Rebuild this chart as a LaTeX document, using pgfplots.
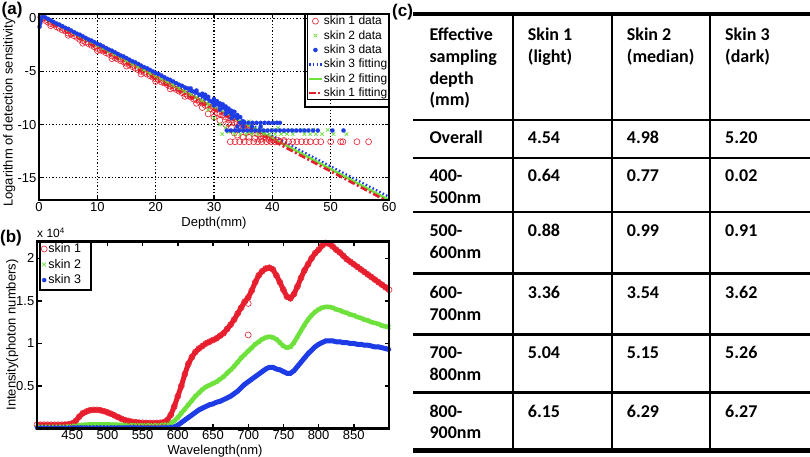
\documentclass[border=0pt]{standalone}
\usepackage{pgfplots}
\usepackage{pgfplotstable}
\pgfplotsset{compat=1.18}
\usepackage{fontspec}
\setmainfont{Liberation Sans}
\newfontfamily\tabfont{Carlito}
\definecolor{mred}{RGB}{230,30,45}
\definecolor{mgreen}{RGB}{110,225,60}
\definecolor{mblue}{RGB}{30,60,230}

\pgfplotstableread{
wl s1 s2 s3
400 0.045 0.020 0.010
405 0.045 0.020 0.010
410 0.045 0.020 0.010
415 0.045 0.020 0.010
420 0.045 0.020 0.010
425 0.045 0.020 0.010
430 0.045 0.021 0.010
435 0.045 0.021 0.010
440 0.047 0.022 0.010
445 0.050 0.025 0.010
450 0.060 0.030 0.011
455 0.090 0.035 0.011
460 0.140 0.040 0.011
465 0.180 0.044 0.011
470 0.200 0.047 0.012
475 0.215 0.049 0.012
480 0.220 0.050 0.012
485 0.220 0.051 0.012
490 0.215 0.051 0.012
495 0.205 0.050 0.012
500 0.190 0.049 0.012
505 0.175 0.048 0.012
510 0.155 0.047 0.012
515 0.135 0.045 0.012
520 0.115 0.044 0.012
525 0.100 0.043 0.012
530 0.090 0.042 0.012
535 0.080 0.041 0.012
540 0.075 0.040 0.012
545 0.070 0.040 0.012
550 0.068 0.040 0.012
555 0.066 0.040 0.012
560 0.065 0.040 0.012
565 0.065 0.040 0.012
570 0.066 0.041 0.012
575 0.068 0.042 0.013
580 0.075 0.044 0.013
585 0.100 0.048 0.014
590 0.160 0.060 0.016
595 0.260 0.090 0.020
600 0.380 0.130 0.040
605 0.500 0.180 0.070
610 0.640 0.230 0.100
615 0.760 0.280 0.130
620 0.840 0.330 0.160
625 0.900 0.380 0.190
630 0.940 0.420 0.220
635 0.970 0.460 0.240
640 1.000 0.490 0.260
645 1.020 0.510 0.280
650 1.040 0.530 0.290
655 1.060 0.550 0.310
660 1.090 0.580 0.320
665 1.120 0.610 0.340
670 1.170 0.650 0.360
675 1.220 0.690 0.380
680 1.280 0.730 0.410
685 1.350 0.780 0.440
690 1.420 0.830 0.480
695 1.490 0.870 0.520
700 1.540 0.910 0.550
705 1.620 0.950 0.580
710 1.720 0.990 0.610
715 1.800 1.020 0.640
720 1.850 1.050 0.670
725 1.880 1.070 0.700
730 1.890 1.080 0.720
735 1.870 1.070 0.720
740 1.800 1.050 0.700
745 1.720 1.010 0.690
750 1.630 0.970 0.670
755 1.550 0.950 0.650
760 1.530 0.960 0.650
765 1.580 1.010 0.680
770 1.670 1.080 0.730
775 1.770 1.150 0.780
780 1.860 1.220 0.830
785 1.930 1.280 0.880
790 2.000 1.330 0.920
795 2.060 1.370 0.960
800 2.100 1.400 0.990
805 2.150 1.420 1.010
810 2.180 1.430 1.030
815 2.170 1.430 1.030
820 2.140 1.420 1.030
825 2.100 1.400 1.020
830 2.070 1.390 1.020
835 2.030 1.370 1.010
840 1.990 1.360 1.010
845 1.960 1.340 1.000
850 1.930 1.330 1.000
855 1.900 1.310 0.990
860 1.870 1.300 0.990
865 1.840 1.280 0.980
870 1.810 1.270 0.980
875 1.780 1.250 0.970
880 1.750 1.240 0.960
885 1.720 1.230 0.960
890 1.690 1.210 0.950
895 1.660 1.200 0.940
900 1.630 1.190 0.930
}\spectra

\pgfplotsset{
  mstyle/.style={
    scale only axis,
    anchor=south west,
    axis line style={black},
    tick style={black, line width=1.4pt},
    major tick length=4.5pt,
    tick align=inside,
    ticklabel style={font=\fontsize{13}{15}\selectfont},
    xticklabel style={inner sep=2pt},
    yticklabel style={inner sep=2.5pt},
    /pgf/number format/assume math mode=true,
    label style={font=\fontsize{13}{15}\selectfont},
    legend image code/.code={\draw[mark repeat=2,mark phase=2,##1] plot coordinates {(0pt,0pt) (6.5pt,0pt) (13pt,0pt)};},
  }
}

\begin{document}
\begin{tikzpicture}
\useasboundingbox (0pt,0pt) rectangle (810pt,457pt);

% ---------------- (a) ----------------
\begin{axis}[mstyle,
  at={(39pt,257pt)}, width=350pt, height=186pt,
  xmin=0, xmax=60, ymin=-17.1, ymax=0.4,
  xtick={0,10,...,60}, ytick={-15,-10,-5,0},
  grid=major,
  major grid style={black, line width=1.4pt, dash pattern=on 1.3pt off 2pt},
  xlabel={Depth(mm)},
  ylabel={Logarithm of detection sensitivity},
  xlabel style={at={(axis description cs:0.5,-0.125)}, anchor=center},
  ylabel style={at={(axis description cs:-0.085,0.47)}, anchor=center},
  legend style={at={(rel axis cs:1,1)}, anchor=north east, xshift=-0.5pt, yshift=-0.5pt, draw=black,
    fill=white, font=\fontsize{12}{13}\selectfont,
    nodes={inner sep=0.6pt}, inner xsep=0.5pt, inner ysep=0.8pt, row sep=3pt, cells={anchor=west}},
]
\addplot[only marks, mark=o, mark size=3pt, mark options={mred, line width=0.6pt}] coordinates {
(0.3,0.1) (0.5,-0.05) (1,-0.2) (1.5,-0.35) (2,-0.5) (2.5,-0.6) (3,-0.8) (3.5,-0.95) (4,-1.1) (4.5,-1.2) (5,-1.4) (5.5,-1.5) (6,-1.65) (6.5,-1.8) (7,-2.0) (7.5,-2.1) (8,-2.25) (8.5,-2.4) (9,-2.55) (9.5,-2.7) (10,-2.85) (10.5,-3.0) (11,-3.1) (11.5,-3.25) (12,-3.4) (12.5,-3.55) (13,-3.7) (13.5,-3.85) (14,-4.0) (14.5,-4.1) (15,-4.25) (15.5,-4.4) (16,-4.55) (16.5,-4.7) (17,-4.85) (17.5,-5.0) (18,-5.1) (18.5,-5.25) (19,-5.4) (19.5,-5.55) (20,-5.7) (20.5,-5.8) (21,-6.0) (21.5,-6.1) (22,-6.25) (22.5,-6.4) (23,-6.55) (23.5,-6.7) (24,-6.85) (24.5,-7.0) (25,-7.1) (25.5,-7.3) (26,-7.4) (26.5,-7.6) (27,-7.7) (27.5,-7.85) (28,-8.0) (28.5,-8.2) (29,-8.3) (29.5,-8.5) (30,-8.6) (30.5,-8.9) (31,-9.0) (31.5,-9.1) (32,-9.3) (32.5,-9.4) (33,-9.6) (33.5,-9.8) (34,-9.9) (34.5,-10.1) (35,-10.2) (35.5,-10.4) (36,-10.5) (36.5,-10.6) (37,-10.8) (37.5,-10.9) (38,-11.1) (38.5,-11.2) (39,-11.3) (39.5,-11.5)
(2,-0.7) (5,-1.6) (7.5,-2.35) (10,-3.05) (12.5,-3.8) (15,-4.5) (17.5,-5.25) (20,-5.95) (22.5,-6.65) (25,-7.35) (27,-8.0) (28,-8.4) (29,-9.0) (30,-9.3) (31,-9.6) (32,-10.0) (32.5,-9.9) (33,-10.3) (33.5,-10.8) (34,-11.0) (35,-11.2) (35.5,-10.8) (36,-11.2) (37,-11.3) (38,-11.4) (40,-11.4) (41,-11.5) (42,-11.5)
(32.8,-11.62) (33.6,-11.62) (34.4,-11.62) (35.2,-11.62) (36,-11.62) (36.8,-11.62) (37.5,-11.62) (38.2,-11.62) (39,-11.62) (39.8,-11.62) (40.5,-11.62) (41.2,-11.62) (42,-11.62) (42.8,-11.62) (43.5,-11.62) (44.2,-11.62) (45,-11.62) (45.8,-11.62) (46.5,-11.62) (47.5,-11.62) (48.3,-11.62) (50,-11.62) (51.7,-11.62) (52.1,-11.62) (54.5,-11.62) (56.5,-11.62)
};
\addlegendentry{skin 1 data}
\addplot[only marks, mark=x, mark size=2.5pt, mark options={mgreen, line width=0.7pt}] coordinates {
(0.5,0.2) (1,0.05) (1.5,-0.1) (2,-0.25) (3,-0.5) (4,-0.8) (5,-1.1) (6,-1.4) (7,-1.7) (8,-1.95) (9,-2.25) (10,-2.55) (11,-2.85) (12,-3.1) (13,-3.4) (14,-3.7) (15,-4.0) (16,-4.3) (17,-4.55) (18,-4.85) (19,-5.15) (20,-5.45) (21,-5.7) (22,-6.0) (23,-6.3) (24,-6.6) (25,-6.9) (26,-7.15) (27,-7.45) (28,-7.75) (29,-8.05) (30,-8.3) (31,-8.6) (32,-8.9) (33,-9.2) (34,-9.5) (35,-9.8) (36,-10.1) (37,-10.4)
(29,-8.6) (30,-9.4) (31,-10.0) (31.4,-10.9) (32,-10.3) (32.5,-10.7) (33,-10.6) (33.5,-10.9) (34,-10.6) (34.5,-10.9) (35,-10.5) (35.5,-10.9) (36,-10.7) (36.5,-10.9) (37,-10.6) (37.5,-10.9) (38,-10.5) (38.5,-10.9) (39,-10.6) (39.5,-10.9) (40,-10.5) (40.5,-10.9) (41,-10.3) (41.5,-10.9) (42,-10.7) (42.5,-10.9) (43,-10.5) (43.5,-10.9) (44,-10.6) (45,-10.5) (45.5,-10.9) (46,-10.6) (46.5,-10.9) (47,-10.5) (47.5,-10.9) (48.5,-10.9) (49.5,-10.5) (50.5,-10.9) (52.7,-10.9) (38,-9.9) (40.5,-9.8) (36,-9.7)
};
\addlegendentry{skin 2 data}
\addplot[only marks, mark=*, mark size=2.1pt, mark options={draw=mblue, fill=mblue, line width=0.2pt}] coordinates {
(0.1,-0.8) (0.2,-0.5) (0.3,-0.2) (0.5,0.1) (1,0.1) (1.5,-0.05) (2,-0.2) (2.5,-0.35) (3,-0.5) (3.5,-0.6) (4,-0.75) (4.5,-0.9) (5,-1.0) (5.5,-1.15) (6,-1.3) (6.5,-1.45) (7,-1.55) (7.5,-1.7) (8,-1.85) (8.5,-2.0) (9,-2.1) (9.5,-2.25) (10,-2.4) (10.5,-2.5) (11,-2.65) (11.5,-2.8) (12,-2.95) (12.5,-3.05) (13,-3.2) (13.5,-3.35) (14,-3.5) (14.5,-3.6) (15,-3.75) (15.5,-3.9) (16,-4.05) (16.5,-4.15) (17,-4.3) (17.5,-4.45) (18,-4.6) (18.5,-4.7) (19,-4.85) (19.5,-5.0) (20,-5.15) (20.5,-5.25) (21,-5.4) (21.5,-5.55) (22,-5.7) (22.5,-5.8) (23,-5.95) (23.5,-6.1) (24,-6.25) (24.5,-6.35) (25,-6.5) (25.5,-6.6) (26,-6.8) (26.5,-6.9) (27,-7.0) (27.5,-7.2) (28,-7.3) (28.5,-7.5) (29,-7.6) (29.5,-7.8) (30,-7.9) (30.5,-8.1) (31,-8.2) (31.5,-8.4) (32,-8.6) (32.5,-8.8) (33,-9.0) (33.5,-9.2) (34,-9.4) (35,-9.7)
(26,-6.6) (27,-6.8) (28,-7.1) (28.5,-7.2) (29,-7.4) (30,-7.6) (30.5,-7.8) (31,-8.0) (31.5,-8.1) (32,-8.3) (32.5,-8.5) (33,-8.7) (33.5,-8.8) (34,-9.1) (34.5,-9.3) (30,-8.2) (31,-8.6) (32,-9.0) (33,-9.4)
(34.5,-9.84) (35.2,-9.84) (35.9,-9.84) (36.6,-9.84) (37.3,-9.84) (38,-9.84) (38.7,-9.84) (39.4,-9.84) (40.1,-9.84) (40.8,-9.84) (41.3,-9.84)
(32.2,-10.56) (32.9,-10.56) (33.6,-10.56) (34.3,-10.56) (35,-10.56) (35.7,-10.56) (36.4,-10.56) (37.1,-10.56) (37.8,-10.56) (38.5,-10.56) (39.2,-10.56) (39.9,-10.56) (40.6,-10.56) (41.3,-10.56) (42,-10.56) (42.7,-10.56) (43.4,-10.56) (44.1,-10.56) (44.8,-10.56) (45.5,-10.56) (46.2,-10.56) (47,-10.56) (47.8,-10.56) (50.3,-10.56) (52.2,-10.56)
(34,-10.2) (35,-10.2) (36.5,-10.2) (38,-10.2)
};
\addlegendentry{skin 3 data}
\addplot[mblue, line width=2.4pt, dash pattern=on 1.6pt off 2.2pt] coordinates {(0,0.4) (60,-16.8)};
\addlegendentry{skin 3 fitting}
\addplot[mgreen, line width=2.4pt] coordinates {(0,0.35) (60,-17.1)};
\addlegendentry{skin 2 fitting}
\addplot[mred, line width=2.6pt, dash pattern=on 7pt off 2.5pt on 2pt off 2.5pt] coordinates {(0,0.1) (60,-17.3)};
\addlegendentry{skin 1 fitting}
\end{axis}

% ---------------- (b) ----------------
\begin{axis}[mstyle,
  at={(37pt,28.4pt)}, width=352pt, height=187.3pt,
  xmin=400, xmax=900, ymin=0, ymax=2.2,
  xtick={450,500,...,850}, ytick={0.5,1,1.5,2},
  xlabel={Wavelength(nm)},
  ylabel={Intensity(photon numbers)},
  xlabel style={at={(axis description cs:0.506,-0.118)}, anchor=center},
  ylabel style={at={(axis description cs:-0.07,0.5)}, anchor=center},
  legend style={at={(rel axis cs:0,1)}, anchor=north west, xshift=3pt, draw=none,
    fill=white, font=\fontsize{12.5}{14}\selectfont,
    nodes={inner sep=1.2pt}, inner xsep=1pt, inner ysep=1pt, row sep=2.6pt, cells={anchor=west}},
]
\addplot[mred, line width=5pt, forget plot] table[x=wl, y=s1] {\spectra};
\addplot[only marks, mark=o, mark size=3pt, mark options={mred, line width=0.6pt}] table[x=wl, y=s1] {\spectra};
\addlegendentry{skin 1}
\addplot[mgreen, line width=4.5pt, forget plot] table[x=wl, y=s2] {\spectra};
\addplot[only marks, mark=x, mark size=2.7pt, mark options={mgreen, line width=0.7pt}] table[x=wl, y=s2] {\spectra};
\addlegendentry{skin 2}
\addplot[mblue, line width=5pt, forget plot] table[x=wl, y=s3] {\spectra};
\addplot[only marks, mark=*, mark size=2.1pt, mark options={draw=mblue, fill=mblue, line width=0.2pt}] table[x=wl, y=s3] {\spectra};
\addlegendentry{skin 3}
\addplot[only marks, mark=o, mark size=3pt, mark options={mred, line width=0.6pt}, forget plot] coordinates {(700,1.47) (700,1.10)};
\end{axis}

% axis frames and legend frames
\begin{scope}[x=1pt,y=1pt]
\draw[black, line width=2.6pt] (39,257) rectangle (389,443);
\draw[black, line width=2.6pt] (37,28.4) rectangle (389,215.7);
\draw[black, line width=2.2pt] (305,350) rectangle (389,443);
\draw[black, line width=2.2pt] (40,167) rectangle (91,215.7);
\end{scope}

\node[anchor=base west, inner sep=0pt, font=\fontsize{12}{13}\selectfont] at (37pt,219pt) {x 10\textsuperscript{4}};

% panel letters
\node[anchor=base west, inner sep=0pt, font=\bfseries\fontsize{17}{19}\selectfont] at (1.5pt,442pt) {(a)};
\node[anchor=base west, inner sep=0pt, font=\bfseries\fontsize{17}{19}\selectfont] at (0pt,214pt) {(b)};
\node[anchor=base west, inner sep=0pt, font=\bfseries\fontsize{17}{19}\selectfont] at (392pt,440pt) {(c)};

% ---------------- (c) table ----------------
\begin{scope}[x=1pt,y=1pt]
\draw[line width=4.5pt] (413,443) -- (810,443);
\draw[line width=5.5pt] (413,6.5) -- (810,6.5);
\foreach \yy in {337,299,245,183.7,122.7,64.7} \draw[line width=2.6pt] (413,\yy) -- (810,\yy);
\foreach \xx in {513,612,710} \draw[line width=2.6pt] (\xx,443) -- (\xx,6.5);
\tikzset{tt/.style={anchor=base west, inner sep=0pt, font=\tabfont\bfseries\fontsize{18}{20}\selectfont}}
\node[tt] at (429.3,416) {Effective};
\node[tt] at (429.3,394.3) {sampling};
\node[tt] at (429.3,372.6) {depth};
\node[tt] at (429.3,351) {(mm)};
\node[tt] at (527.7,416) {Skin 1};
\node[tt] at (527.7,394.3) {(light)};
\node[tt] at (626.7,416) {Skin 2};
\node[tt] at (626.7,394.3) {(median)};
\node[tt] at (725,416) {Skin 3};
\node[tt] at (725,394.3) {(dark)};
\node[tt] at (429.3,313) {Overall};
\node[tt] at (527.7,313) {4.54};
\node[tt] at (626.7,313) {4.98};
\node[tt] at (725,313) {5.20};
\node[tt] at (429.3,275) {400-};
\node[tt] at (429.3,253.3) {500nm};
\node[tt] at (527.7,275) {0.64};
\node[tt] at (626.7,275) {0.77};
\node[tt] at (725,275) {0.02};
\node[tt] at (429.3,220) {500-};
\node[tt] at (429.3,198.3) {600nm};
\node[tt] at (527.7,220) {0.88};
\node[tt] at (626.7,220) {0.99};
\node[tt] at (725,220) {0.91};
\node[tt] at (429.3,158) {600-};
\node[tt] at (429.3,136.3) {700nm};
\node[tt] at (527.7,158) {3.36};
\node[tt] at (626.7,158) {3.54};
\node[tt] at (725,158) {3.62};
\node[tt] at (429.3,98) {700-};
\node[tt] at (429.3,76.3) {800nm};
\node[tt] at (527.7,98) {5.04};
\node[tt] at (626.7,98) {5.15};
\node[tt] at (725,98) {5.26};
\node[tt] at (429.3,39.7) {800-};
\node[tt] at (429.3,18) {900nm};
\node[tt] at (527.7,39.7) {6.15};
\node[tt] at (626.7,39.7) {6.29};
\node[tt] at (725,39.7) {6.27};
\end{scope}
\end{tikzpicture}
\end{document}
